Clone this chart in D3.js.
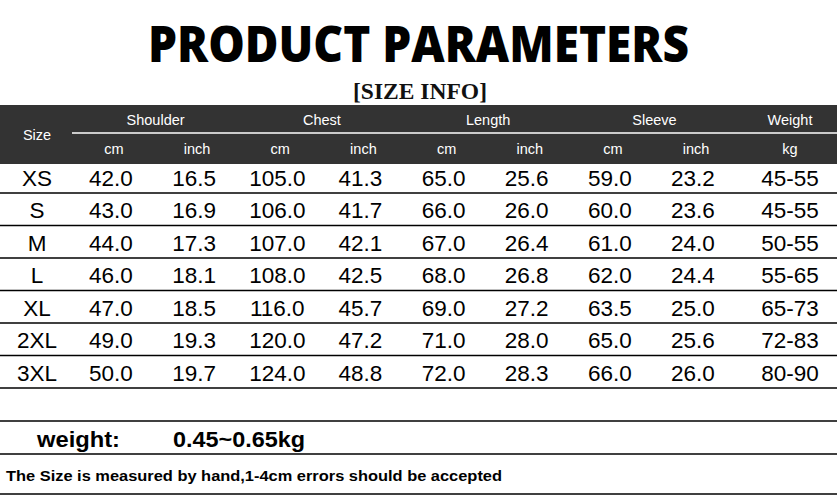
<!DOCTYPE html>
<html><head><meta charset="utf-8">
<script src="https://cdn.jsdelivr.net/npm/d3@7"></script>
<style>html,body{margin:0;padding:0;background:#fff;}svg{display:block;}</style>
</head><body>
<svg id="c" width="837" height="504"></svg>
<script>
const title = "PRODUCT PARAMETERS";
const subtitle = "[SIZE INFO]";
const groups = ["Shoulder", "Chest", "Length", "Sleeve"];
const units = ["cm", "inch"];
const sizes = ["XS", "S", "M", "L", "XL", "2XL", "3XL"];
const shoulderCm = ["42.0", "43.0", "44.0", "46.0", "47.0", "49.0", "50.0"];
const shoulderIn = ["16.5", "16.9", "17.3", "18.1", "18.5", "19.3", "19.7"];
const chestCm = ["105.0", "106.0", "107.0", "108.0", "116.0", "120.0", "124.0"];
const chestIn = ["41.3", "41.7", "42.1", "42.5", "45.7", "47.2", "48.8"];
const lengthCm = ["65.0", "66.0", "67.0", "68.0", "69.0", "71.0", "72.0"];
const lengthIn = ["25.6", "26.0", "26.4", "26.8", "27.2", "28.0", "28.3"];
const sleeveCm = ["59.0", "60.0", "61.0", "62.0", "63.5", "65.0", "66.0"];
const sleeveIn = ["23.2", "23.6", "24.0", "24.4", "25.0", "25.6", "26.0"];
const weightKg = ["45-55", "45-55", "50-55", "55-65", "65-73", "72-83", "80-90"];
const weightLabel = "weight:";
const weightValue = "0.45~0.65kg";
const note = "The Size is measured by hand,1-4cm errors should be accepted";

const W = 837;
const svg = d3.select("#c");
const F = "Arial, 'Liberation Sans', sans-serif";

// Title
svg.append("text").attr("x", W/2).attr("y", 62).attr("text-anchor", "middle")
  .attr("font-family", "'Open Sans', 'DejaVu Sans', sans-serif").attr("font-weight", 800)
  .attr("font-size", 49).attr("textLength", 541).attr("lengthAdjust", "spacingAndGlyphs")
  .attr("fill", "#000").text(title);
svg.append("text").attr("x", 420).attr("y", 99).attr("text-anchor", "middle")
  .attr("font-family", "'Liberation Serif', 'Times New Roman', serif").attr("font-weight", "bold")
  .attr("font-size", 23).attr("textLength", 134).attr("lengthAdjust", "spacingAndGlyphs")
  .attr("fill", "#111").text(subtitle);

// Header
const hTop = 105, hMid = 133, hBot = 164;
svg.append("rect").attr("x", 0).attr("y", hTop).attr("width", W).attr("height", hBot - hTop).attr("fill", "#333");
svg.append("line").attr("x1", 72).attr("x2", W).attr("y1", hMid).attr("y2", hMid).attr("stroke", "#fff").attr("stroke-width", 1.5);

const cols = [];
groups.forEach(g => units.forEach(u => cols.push(g + "|" + u)));
const x = d3.scalePoint().domain(cols).range([112, 694]);
const xSize = 37, xWeight = 790;

const hdr = svg.append("g").attr("font-family", F).attr("font-size", 14.5).attr("fill", "#fff").attr("text-anchor", "middle");
hdr.append("text").attr("x", xSize).attr("y", 135).attr("dominant-baseline", "central").text("Size");
groups.forEach(g => {
  const cx = (x(g + "|cm") + x(g + "|inch")) / 2 + 2;
  hdr.append("text").attr("x", cx).attr("y", 120).attr("dominant-baseline", "central").text(g);
  units.forEach(u => hdr.append("text").attr("x", x(g + "|" + u) + 2).attr("y", 149).attr("dominant-baseline", "central").text(u));
});
hdr.append("text").attr("x", xWeight).attr("y", 120).attr("dominant-baseline", "central").text("Weight");
hdr.append("text").attr("x", xWeight).attr("y", 149).attr("dominant-baseline", "central").text("kg");

// Body rows
const y = d3.scaleBand().domain(sizes).range([160.5, 388]);
const series = [shoulderCm, shoulderIn, chestCm, chestIn, lengthCm, lengthIn, sleeveCm, sleeveIn];
const body = svg.append("g").attr("font-family", F).attr("font-size", 22.5).attr("fill", "#000").attr("text-anchor", "middle");
sizes.forEach((s, i) => {
  const cy = y(s) + y.bandwidth() / 2 + 1.5;
  body.append("text").attr("x", xSize).attr("y", cy).attr("dominant-baseline", "central").text(s);
  series.forEach((arr, j) => body.append("text").attr("x", x(cols[j]) - 1).attr("y", cy).attr("dominant-baseline", "central").text(arr[i]));
  body.append("text").attr("x", xWeight).attr("y", cy).attr("dominant-baseline", "central").text(weightKg[i]);
  svg.append("line").attr("x1", 0).attr("x2", W).attr("y1", y(s) + y.bandwidth()).attr("y2", y(s) + y.bandwidth())
    .attr("stroke", "#000").attr("stroke-width", 1.5);
});

// Footer rows
[421, 454, 494].forEach(ly => svg.append("line").attr("x1", 0).attr("x2", W).attr("y1", ly).attr("y2", ly).attr("stroke", "#000").attr("stroke-width", 1.5));
svg.append("text").attr("x", 37).attr("y", 439).attr("dominant-baseline", "central")
  .attr("font-family", F).attr("font-weight", "bold").attr("font-size", 22).attr("textLength", 83).attr("lengthAdjust", "spacingAndGlyphs").text(weightLabel);
svg.append("text").attr("x", 173).attr("y", 439).attr("dominant-baseline", "central")
  .attr("font-family", F).attr("font-weight", "bold").attr("font-size", 22).attr("textLength", 132).attr("lengthAdjust", "spacingAndGlyphs").text(weightValue);
svg.append("text").attr("x", 6).attr("y", 475).attr("dominant-baseline", "central")
  .attr("font-family", F).attr("font-weight", "bold").attr("font-size", 15).attr("textLength", 496).attr("lengthAdjust", "spacingAndGlyphs").text(note);
</script>
</body></html>
